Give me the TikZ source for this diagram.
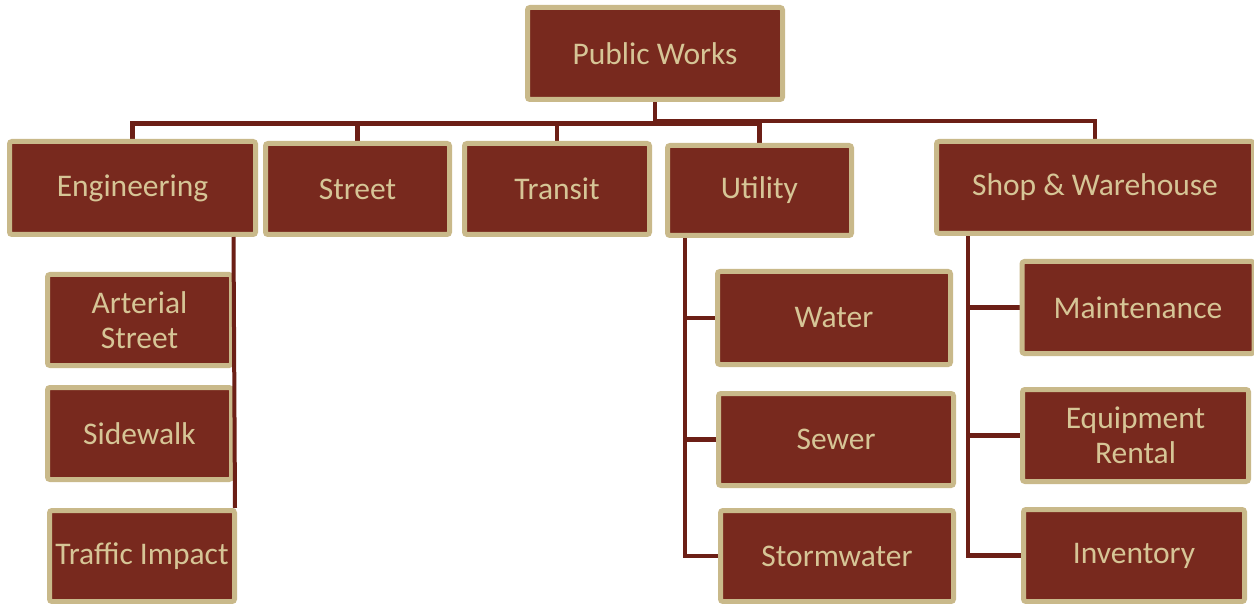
\documentclass[tikz,border=0pt]{standalone}
\usepackage{fontspec}
\setmainfont{Carlito}
\usetikzlibrary{calc}
\definecolor{boxfill}{HTML}{78291E}
\definecolor{boxrim}{HTML}{C9B98A}
\definecolor{boxtext}{HTML}{D6C596}
\definecolor{wire}{HTML}{6C1F16}
\pgfdeclarelayer{wires}
\pgfsetlayers{wires,main}
\tikzset{
  x=1pt, y=-1pt,
  unit/.style={draw=boxrim, line width=5pt, fill=boxfill, rounded corners=2.5pt,
    text=boxtext, font=\fontsize{31.5}{35}\selectfont, align=center, inner sep=0pt},
  conn/.style={draw=wire, line width=4.5pt},
}
\begin{document}
\begin{tikzpicture}
\useasboundingbox (0,0) rectangle (1254,604);
\clip (0,0) rectangle (1254,604);

% top level and departments
\node[unit, minimum width=255, minimum height=92] (pw)      at (655,53.5)   {Public Works};
\node[unit, minimum width=246, minimum height=93] (eng)     at (132.5,188)  {Engineering};
\node[unit, minimum width=184, minimum height=91] (street)  at (357.5,189)  {Street};
\node[unit, minimum width=185, minimum height=91] (transit) at (557,189)    {Transit};
\node[unit, minimum width=184, minimum height=90] (util)    at (759.5,190.5){Utility};
\node[unit, minimum width=317, minimum height=92] (shop)    at (1095,187.5) {Shop \& Warehouse};

% engineering sections
\node[unit, minimum width=184, minimum height=91] (art)   at (139.5,320)   {Arterial\\Street};
\node[unit, minimum width=184, minimum height=92] (side)  at (139.5,433.5) {Sidewalk};
\node[unit, minimum width=185, minimum height=91] (traf)  at (142,556)     {Traffic Impact};

% utility sections
\node[unit, minimum width=233, minimum height=93] (water) at (834,318)     {Water};
\node[unit, minimum width=235, minimum height=92] (sewer) at (836,439.5)   {Sewer};
\node[unit, minimum width=233, minimum height=91] (storm) at (837,556)     {Stormwater};

% shop sections
\node[unit, minimum width=232, minimum height=92] (maint) at (1138,307.5)  {Maintenance};
\node[unit, minimum width=226, minimum height=92] (equip) at (1135.5,435.5){Equipment\\Rental};
\node[unit, minimum width=221, minimum height=92] (inv)   at (1134,555.5)  {Inventory};

% bus heights and trunk positions
\coordinate (busA) at (0,123.5);
\coordinate (busB) at (0,121);
\coordinate (uline) at (685,0);
\coordinate (sline) at (968,0);

\begin{pgfonlayer}{wires}
  % Public Works to the departments
  \draw[conn] (pw.south) -- (pw.south |- busB) -- (shop.north |- busB) -- (shop.north);
  \draw[conn] (eng.north) -- (eng.north |- busA) -- (util.north |- busA) -- (util.north);
  \draw[conn] (street.north) -- (street.north |- busA);
  \draw[conn] (transit.north) -- (transit.north |- busA);
  % Utility trunk
  \draw[conn] (uline |- util.south) -- (uline |- storm.west) -- (storm.west);
  \draw[conn] (uline |- water.west) -- (water.west);
  \draw[conn] (uline |- sewer.west) -- (sewer.west);
  % Shop trunk
  \draw[conn] (sline |- shop.south) -- (sline |- inv.west) -- (inv.west);
  \draw[conn] (sline |- maint.west) -- (maint.west);
  \draw[conn] (sline |- equip.west) -- (equip.west);
\end{pgfonlayer}

% Engineering trunk, running over the right rims of its sections
\draw[draw=wire, line width=4pt] ($(eng.south east)+(-24.5,0)$) -- ($(traf.north east)+(-2,0)$);
\end{tikzpicture}
\end{document}
